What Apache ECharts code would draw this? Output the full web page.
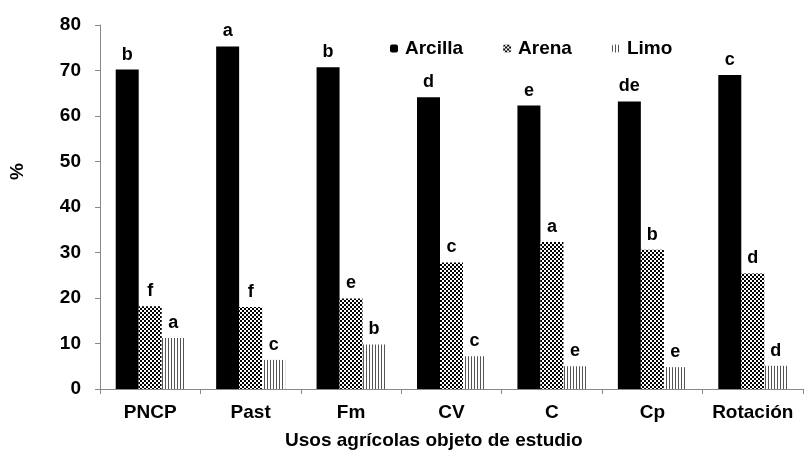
<!DOCTYPE html>
<html>
<head>
<meta charset="utf-8">
<script src="https://cdn.jsdelivr.net/npm/echarts@6/dist/echarts.min.js"></script>
<style>
  html, body { margin: 0; padding: 0; background: #fff; }
  #chart { width: 805px; height: 452px; }
</style>
</head>
<body>
<div id="chart"></div>
<script>
const categories = ['PNCP', 'Past', 'Fm', 'CV', 'C', 'Cp', 'Rotación'];
const arcilla = [70.2, 75.3, 70.7, 64.1, 62.3, 63.2, 69.0];
const arena = [18.2, 18.0, 19.9, 27.8, 32.3, 30.6, 25.4];
const limo = [11.2, 6.4, 9.8, 7.2, 5.0, 4.8, 5.1];
const arcillaLetters = ['b', 'a', 'b', 'd', 'e', 'de', 'c'];
const arenaLetters = ['f', 'f', 'e', 'c', 'a', 'b', 'd'];
const limoLetters = ['a', 'c', 'b', 'c', 'e', 'e', 'd'];
const yTicks = [0, 10, 20, 30, 40, 50, 60, 70, 80];

// patrones de relleno
function checkerPattern() {
  const c = document.createElement('canvas');
  c.width = 4; c.height = 4;
  const ctx = c.getContext('2d');
  ctx.fillStyle = '#fff';
  ctx.fillRect(0, 0, 4, 4);
  ctx.fillStyle = '#000';
  ctx.fillRect(0, 0, 2, 2);
  ctx.fillRect(2, 2, 2, 2);
  return { image: c, repeat: 'repeat' };
}
function stripePattern() {
  const c = document.createElement('canvas');
  c.width = 3; c.height = 4;
  const ctx = c.getContext('2d');
  ctx.fillStyle = '#fff';
  ctx.fillRect(0, 0, 3, 4);
  ctx.fillStyle = '#555';
  ctx.fillRect(0, 0, 1, 4);
  return { image: c, repeat: 'repeat' };
}

const font = 'Liberation Sans, Arial, sans-serif';
const chart = echarts.init(document.getElementById('chart'), null, { renderer: 'canvas' });

function letterLabel(letters) {
  return {
    show: true,
    position: 'top',
    distance: 6,
    color: '#000',
    fontFamily: font,
    fontWeight: 'bold',
    fontSize: 18,
    formatter: p => letters[p.dataIndex]
  };
}

const option = {
  backgroundColor: '#fff',
  animation: false,
  grid: { left: 100, right: 2, top: 25, bottom: 63, containLabel: false },
  legend: {
    top: 34,
    left: 385,
    itemWidth: 8,
    itemHeight: 8,
    itemGap: 40,
    textStyle: { fontFamily: font, fontWeight: 'bold', fontSize: 19, color: '#000', padding: [0, 0, 0, 2] },
    data: ['Arcilla', 'Arena', 'Limo']
  },
  title: {
    text: 'Usos agrícolas objeto de estudio',
    left: 280,
    top: 426,
    textStyle: { fontFamily: font, fontWeight: 'bold', fontSize: 19, color: '#000' }
  },
  graphic: [{
    type: 'text',
    left: 8,
    top: 163,
    rotation: Math.PI / 2,
    style: { text: '%', fontFamily: font, fontWeight: 'bold', fontSize: 19, fill: '#000' }
  }],
  xAxis: {
    type: 'category',
    data: categories,
    axisLine: { lineStyle: { color: '#888' } },
    axisTick: { show: true, length: 5, lineStyle: { color: '#888' } },
    axisLabel: { interval: 0, margin: 14, fontFamily: font, fontWeight: 'bold', fontSize: 19, color: '#000' }
  },
  yAxis: {
    type: 'value',
    min: 0,
    max: 80,
    interval: 10,
    axisLine: { show: true, lineStyle: { color: '#888' } },
    axisTick: { show: true, length: 5, lineStyle: { color: '#888' } },
    splitLine: { show: false },
    axisLabel: {
      margin: 19,
      fontFamily: font, fontWeight: 'bold', fontSize: 19, color: '#000',
      formatter: v => (yTicks.includes(v) ? String(v) : '')
    }
  },
  series: [
    {
      name: 'Arcilla', type: 'bar', data: arcilla, barWidth: 23, barGap: '0%',
      itemStyle: { color: '#000' }, label: letterLabel(arcillaLetters)
    },
    {
      name: 'Arena', type: 'bar', data: arena, barWidth: 23, barGap: '0%',
      itemStyle: { color: checkerPattern() }, label: letterLabel(arenaLetters)
    },
    {
      name: 'Limo', type: 'bar', data: limo, barWidth: 23, barGap: '0%',
      itemStyle: { color: stripePattern() }, label: letterLabel(limoLetters)
    }
  ]
};

chart.setOption(option);
</script>
</body>
</html>
